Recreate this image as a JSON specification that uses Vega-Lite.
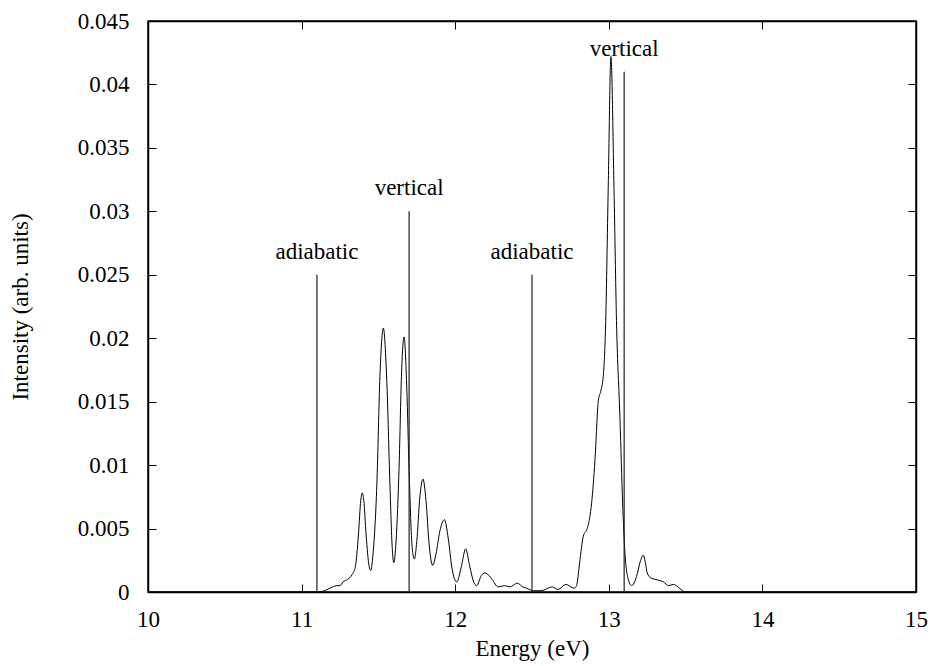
{
  "$schema": "https://vega.github.io/schema/vega-lite/v6.json",
  "autosize": {"type": "none"},
  "padding": {"left": 148, "top": 21, "right": 17, "bottom": 74},
  "width": 768,
  "height": 571,
  "background": "white",
  "config": {
    "view": {"stroke": "black", "strokeWidth": 1.5},
    "font": "Liberation Serif",
    "axis": {
      "grid": false,
      "domainColor": "black",
      "domainWidth": 1.5,
      "tickColor": "black",
      "tickWidth": 1,
      "tickSize": -8,
      "labelFlush": false,
      "labelFont": "Liberation Serif",
      "labelFontSize": 23,
      "labelColor": "black",
      "titleFont": "Liberation Serif",
      "titleFontSize": 23,
      "titleFontWeight": "normal",
      "titleColor": "black"
    }
  },
  "datasets": {
    "spectrum": [
      {"E": 10.0, "I": 0}, {"E": 11.1, "I": 0}, {"E": 11.15, "I": 0.0001}, {"E": 11.2, "I": 0.0004},
      {"E": 11.23, "I": 0.0005}, {"E": 11.25, "I": 0.0005}, {"E": 11.27, "I": 0.0008}, {"E": 11.3, "I": 0.001},
      {"E": 11.33, "I": 0.0014}, {"E": 11.35, "I": 0.002}, {"E": 11.37, "I": 0.0045}, {"E": 11.385, "I": 0.0072},
      {"E": 11.395, "I": 0.0078}, {"E": 11.405, "I": 0.0072}, {"E": 11.42, "I": 0.0045}, {"E": 11.44, "I": 0.002},
      {"E": 11.45, "I": 0.0017}, {"E": 11.465, "I": 0.003}, {"E": 11.49, "I": 0.0085}, {"E": 11.51, "I": 0.017},
      {"E": 11.532, "I": 0.0208}, {"E": 11.555, "I": 0.0165}, {"E": 11.575, "I": 0.0085}, {"E": 11.59, "I": 0.0035},
      {"E": 11.6, "I": 0.0023}, {"E": 11.615, "I": 0.004}, {"E": 11.635, "I": 0.01}, {"E": 11.65, "I": 0.017},
      {"E": 11.667, "I": 0.0201}, {"E": 11.685, "I": 0.016}, {"E": 11.7, "I": 0.0095}, {"E": 11.72, "I": 0.0035},
      {"E": 11.734, "I": 0.0026}, {"E": 11.75, "I": 0.004}, {"E": 11.77, "I": 0.0075}, {"E": 11.79, "I": 0.0089},
      {"E": 11.81, "I": 0.0072}, {"E": 11.83, "I": 0.0038}, {"E": 11.853, "I": 0.0021}, {"E": 11.875, "I": 0.003},
      {"E": 11.9, "I": 0.0048}, {"E": 11.93, "I": 0.0057}, {"E": 11.955, "I": 0.0042}, {"E": 11.98, "I": 0.0018},
      {"E": 12.01, "I": 0.0008}, {"E": 12.04, "I": 0.002}, {"E": 12.068, "I": 0.0034}, {"E": 12.095, "I": 0.002},
      {"E": 12.12, "I": 0.0008}, {"E": 12.14, "I": 0.0005}, {"E": 12.17, "I": 0.0013}, {"E": 12.194, "I": 0.0015},
      {"E": 12.22, "I": 0.0013}, {"E": 12.24, "I": 0.001}, {"E": 12.28, "I": 0.0004}, {"E": 12.32, "I": 0.0005},
      {"E": 12.357, "I": 0.0004}, {"E": 12.404, "I": 0.0007}, {"E": 12.44, "I": 0.0004}, {"E": 12.465, "I": 0.0003},
      {"E": 12.51, "I": 0.0001}, {"E": 12.56, "I": 0.0001}, {"E": 12.63, "I": 0.0004}, {"E": 12.67, "I": 0.0002},
      {"E": 12.72, "I": 0.0006}, {"E": 12.775, "I": 0.0003}, {"E": 12.79, "I": 0.0005}, {"E": 12.81, "I": 0.0023},
      {"E": 12.834, "I": 0.0044}, {"E": 12.856, "I": 0.0049}, {"E": 12.875, "I": 0.0058}, {"E": 12.888, "I": 0.007},
      {"E": 12.91, "I": 0.0104}, {"E": 12.932, "I": 0.0151}, {"E": 12.947, "I": 0.0158}, {"E": 12.964, "I": 0.017},
      {"E": 12.98, "I": 0.0214}, {"E": 12.996, "I": 0.0317}, {"E": 13.014, "I": 0.0422}, {"E": 13.034, "I": 0.0317},
      {"E": 13.05, "I": 0.0214}, {"E": 13.073, "I": 0.0136}, {"E": 13.09, "I": 0.007}, {"E": 13.105, "I": 0.0031},
      {"E": 13.127, "I": 0.001}, {"E": 13.149, "I": 0.0005}, {"E": 13.18, "I": 0.0012}, {"E": 13.205, "I": 0.0024},
      {"E": 13.224, "I": 0.0029}, {"E": 13.24, "I": 0.0022}, {"E": 13.25, "I": 0.0015}, {"E": 13.275, "I": 0.0011},
      {"E": 13.3, "I": 0.001}, {"E": 13.333, "I": 0.0009}, {"E": 13.355, "I": 0.0008}, {"E": 13.39, "I": 0.0005},
      {"E": 13.42, "I": 0.0006}, {"E": 13.44, "I": 0.0005}, {"E": 13.46, "I": 0.0003}, {"E": 13.48, "I": 0.0001},
      {"E": 13.5, "I": 0}, {"E": 15.0, "I": 0}
    ],
    "lines": [
      {"E": 11.1, "h": 0.025, "label": "adiabatic"},
      {"E": 11.7, "h": 0.03, "label": "vertical"},
      {"E": 12.5, "h": 0.025, "label": "adiabatic"},
      {"E": 13.1, "h": 0.041, "label": "vertical"}
    ]
  },
  "layer": [
    {
      "data": {"name": "spectrum"},
      "mark": {"type": "line", "color": "black", "strokeWidth": 1, "interpolate": "monotone", "clip": true},
      "encoding": {
        "x": {"field": "E", "type": "quantitative",
              "scale": {"domain": [10, 15], "nice": false, "zero": false},
              "axis": {"orient": "bottom", "values": [10, 11, 12, 13, 14, 15], "title": "Energy (eV)",
                       "labelFont": "Liberation Serif", "labelFlush": false,
                       "labelPadding": 24, "titleX": 384, "titleY": 56, "titleAlign": "center", "titleBaseline": "middle"}},
        "y": {"field": "I", "type": "quantitative",
              "scale": {"domain": [0, 0.045], "nice": false},
              "axis": {"orient": "left", "values": [0, 0.005, 0.01, 0.015, 0.02, 0.025, 0.03, 0.035, 0.04, 0.045],
                       "labelFont": "Liberation Serif", "labelFlush": false,
                       "format": "~g", "title": "Intensity (arb. units)", "labelPadding": 27,
                       "titleX": -128, "titleY": 285.5, "titleAngle": -90, "titleAlign": "center", "titleBaseline": "middle"}}
      }
    },
    {
      "data": {"name": "lines"},
      "mark": {"type": "rule", "color": "#222", "strokeWidth": 1.2},
      "encoding": {
        "x": {"field": "E", "type": "quantitative",
              "axis": {"orient": "top", "values": [10, 11, 12, 13, 14, 15], "labels": false, "title": null}},
        "y": {"field": "h", "type": "quantitative",
              "axis": {"orient": "right", "values": [0, 0.005, 0.01, 0.015, 0.02, 0.025, 0.03, 0.035, 0.04, 0.045], "labels": false, "title": null}},
        "y2": {"datum": 0}
      }
    },
    {
      "data": {"name": "lines"},
      "mark": {"type": "text", "font": "Liberation Serif", "fontSize": 23, "color": "black", "align": "center", "baseline": "alphabetic", "dy": -16},
      "encoding": {
        "x": {"field": "E", "type": "quantitative", "axis": null},
        "y": {"field": "h", "type": "quantitative", "axis": null},
        "text": {"field": "label"}
      }
    }
  ]
}
